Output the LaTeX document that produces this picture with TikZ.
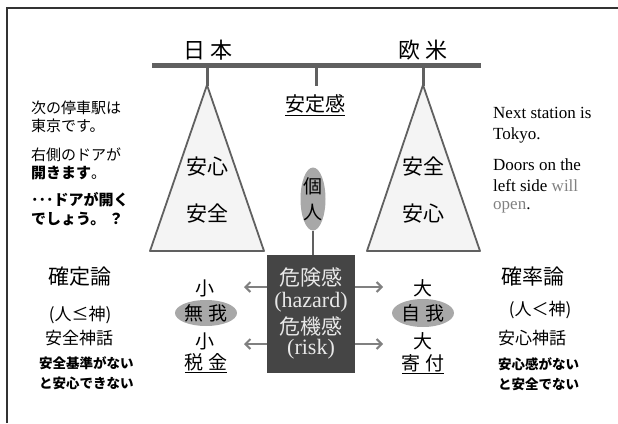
\documentclass[tikz,border=0pt]{standalone}
\usepackage{fontspec}
\setmainfont{Liberation Serif}
\newfontfamily\jp{Noto Sans CJK JP}
\usetikzlibrary{arrows.meta,shapes.geometric}
\definecolor{beamc}{HTML}{606060}
\definecolor{trifill}{HTML}{F4F4F4}
\definecolor{ellc}{HTML}{A8A8A8}
\definecolor{boxc}{HTML}{454545}
\definecolor{boxtxt}{HTML}{E8E8E8}
\definecolor{arrc}{HTML}{808080}
\definecolor{graytxt}{HTML}{808080}
\begin{document}
\begin{tikzpicture}[x=1pt,y=-1pt,
  jtxt/.style={font=\jp\fontsize{#1}{#1}\selectfont, inner sep=0pt},
  jtxt/.default=18,
  jl/.style={font=\jp\fontsize{15}{15}\selectfont, inner sep=0pt, anchor=west},
  jb/.style={font=\jp\bfseries\fontsize{13.5}{13.5}\selectfont, inner sep=0pt, anchor=west},
  en/.style={font=\fontsize{17}{17}\selectfont, inner sep=0pt, anchor=west},
  tri/.style={draw=beamc, line width=1.8pt, fill=trifill, line join=round},
  stem/.style={draw=beamc, line width=3pt},
  oval/.style={ellipse, fill=ellc, inner sep=0pt},
  arr/.style={draw=arrc, line width=2pt, -{Straight Barb[length=5pt,width=10pt]}},
  boxline/.style={font=\fontsize{22}{22}\selectfont, text=boxtxt, inner sep=0pt}
]
\useasboundingbox (0,0) rectangle (618,423);
% frame
\draw[draw=black!80, line width=1.2pt] (7,423) -- (7,8) -- (618,8);
% beam
\draw[beamc, line width=5pt] (152,65) -- (481,65);
\draw[stem] (207,66) -- (207,86);
\draw[stem] (316,66) -- (316,86);
\draw[stem] (423,66) -- (423,86);
\node[jtxt=22] (jp) at (208,50) {日 本};
\node[jtxt=22] (eu) at (423,50) {欧 米};
% triangles
\draw[tri] (207,85) -- (264,251) -- (150,251) -- cycle;
\draw[tri] (423,85) -- (480,251) -- (367,251) -- cycle;
\node[jtxt=21] (la1) at (207,167) {安心};
\node[jtxt=21] (la2) at (207,214) {安全};
\node[jtxt=21] (ra1) at (423,167) {安全};
\node[jtxt=21] (ra2) at (423,214) {安心};
\node[jtxt=20, inner sep=1pt] (stab) at (315,105) {\underline{安定感}};
% individual
\node[oval, minimum width=25pt, minimum height=63pt] (ind) at (313,199) {};
\node[jtxt=19] (ind1) at (313,186) {個};
\node[jtxt=19] (ind2) at (313,212) {人};
% box
\node[fill=boxc, minimum width=88pt, minimum height=118pt, inner sep=0pt] (box) at (311,314) {};
\draw[beamc, line width=2pt] (ind.south) -- (ind.south |- box.north);
\node[boxline, font=\jp\fontsize{21}{21}\selectfont] (b1) at (311,278) {危険感};
\node[boxline] (b2) at (311,302) {(hazard)};
\node[boxline, font=\jp\fontsize{21}{21}\selectfont] (b3) at (311,326) {危機感};
\node[boxline] (b4) at (311,349) {(risk)};
% arrows
\coordinate (al1) at (244,287);
\coordinate (al2) at (244,344);
\coordinate (ar1) at (383,287);
\coordinate (ar2) at (383,344);
\draw[arr] (box.west |- al1) -- (al1);
\draw[arr] (box.west |- al2) -- (al2);
\draw[arr] (box.east |- ar1) -- (ar1);
\draw[arr] (box.east |- ar2) -- (ar2);
% left group
\node[jtxt=19] (s1) at (205,288) {小};
\node[oval, minimum width=62pt, minimum height=26pt] (mu) at (206,313) {};
\node[jtxt=19] (mut) at (206,313) {無 我};
\node[jtxt=19] (s2) at (205,341) {小};
\node[jtxt=19, inner sep=1pt] (tax) at (206,363) {\underline{税 金}};
% right group
\node[jtxt=19] (d1) at (423,288) {大};
\node[oval, minimum width=62pt, minimum height=28pt] (ji) at (423,313) {};
\node[jtxt=19] (jit) at (423,313) {自 我};
\node[jtxt=19] (d2) at (423,341) {大};
\node[jtxt=19, inner sep=1pt] (don) at (423,364) {\underline{寄 付}};
% left texts
\node[jtxt=21] (det) at (80,277) {確定論};
\node[jtxt=17] (l2) at (80,315) {(人≤神)};
\node[jtxt=17] (l3) at (79,338) {安全神話};
\node[jb] (l4) at (39,363) {安全基準がない};
\node[jb] (l5) at (39,383) {と安心できない};
% right texts
\node[jtxt=21] (pro) at (533,277) {確率論};
\node[jtxt=17] (r2) at (540,310) {(人＜神)};
\node[jtxt=17] (r3) at (532,338) {安心神話};
\node[jb] (r4) at (498,364) {安心感がない};
\node[jb] (r5) at (498,384) {と安全でない};
% top-left japanese
\node[jl] (t1) at (31,108) {次の停車駅は};
\node[jl] (t2) at (31,126) {東京です。};
\node[jl] (t3) at (31,155) {右側のドアが};
\node[jl] (t4) at (31,173) {\bfseries 開きます\mdseries 。};
\node[jl] (t5) at (31,200) {\bfseries ･･･ドアが開く};
\node[jl] (t6) at (31,219) {\bfseries でしょう。 ？};
% top-right english
\node[en] (e1) at (493,113) {Next station is};
\node[en] (e2) at (493,135) {Tokyo.};
\node[en] (e3) at (493,165) {Doors on the};
\node[en] (e4) at (493,186) {left side \textcolor{graytxt}{will}};
\node[en] (e5) at (493,207) {\textcolor{graytxt}{open}.};
\end{tikzpicture}
\end{document}
